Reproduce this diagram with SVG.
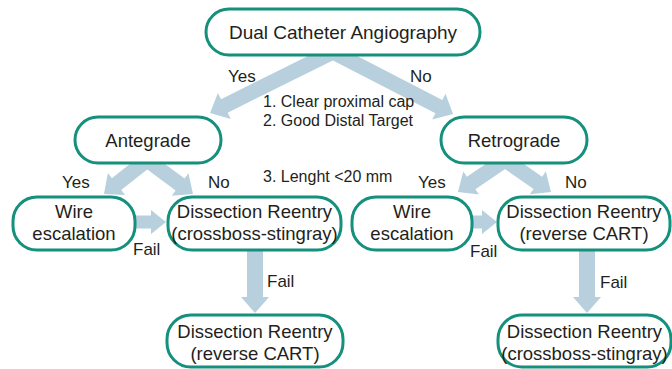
<svg xmlns="http://www.w3.org/2000/svg" width="672" height="369" viewBox="0 0 672 369">
<style>
.box{fill:#fff;stroke:#14907c;stroke-width:3}
.arr{fill:#b8d0dd}
text{font-family:"Liberation Sans",Arial,sans-serif;fill:#231f20}
.lb{font-size:18.5px;text-anchor:middle}
.top{font-size:19px;text-anchor:middle}
.yn{font-size:17px}
.note{font-size:16px}
</style>
<rect width="672" height="369" fill="#fff"/>
<g id="connectors">
<path class="arr" transform="translate(333,52) rotate(153.6)" d="M0,-7.5H121.3V-14.5L137.3,0L121.3,14.5V7.5H0Z"/>
<path class="arr" transform="translate(333,52) rotate(27.3)" d="M0,-7.5H119.1V-14.5L135.1,0L119.1,14.5V7.5H0Z"/>
<path class="arr" transform="translate(147,160) rotate(141.7)" d="M0,-7.5H38.8V-14L54.8,0L38.8,14V7.5H0Z"/>
<path class="arr" transform="translate(147,160) rotate(36.5)" d="M0,-7.5H41.2V-14L57.2,0L41.2,14V7.5H0Z"/>
<path class="arr" transform="translate(505,160) rotate(145.8)" d="M0,-7.5H40.9V-14L56.9,0L40.9,14V7.5H0Z"/>
<path class="arr" transform="translate(505,160) rotate(34.8)" d="M0,-7.5H40V-14L56,0L40,14V7.5H0Z"/>
<path class="arr" transform="translate(130,222)" d="M0,-6.5H21V-12L36,0L21,12V6.5H0Z"/>
<path class="arr" transform="translate(468,222)" d="M0,-6.5H14V-12L29,0L14,12V6.5H0Z"/>
<path class="arr" transform="translate(255,248) rotate(90)" d="M0,-8H49V-14L65,0L49,14V8H0Z"/>
<path class="arr" transform="translate(587,248) rotate(90)" d="M0,-8H49V-14L65,0L49,14V8H0Z"/>
<text class="yn" x="228" y="82">Yes</text>
<text class="yn" x="410" y="82">No</text>
<text class="yn" x="62" y="188">Yes</text>
<text class="yn" x="208" y="188">No</text>
<text class="yn" x="418" y="188">Yes</text>
<text class="yn" x="565" y="188">No</text>
<text class="yn" x="133" y="255">Fail</text>
<text class="yn" x="470" y="257">Fail</text>
<text class="yn" x="267" y="287">Fail</text>
<text class="yn" x="600" y="288">Fail</text>
<text class="note" x="263" y="107">1. Clear proximal cap</text>
<text class="note" x="263" y="126">2. Good Distal Target</text>
<text class="note" x="263" y="182">3. Lenght &lt;20 mm</text>
</g>
<g id="n-dca"><rect class="box" x="206" y="9" width="274" height="46" rx="23"/><text class="top" x="343" y="39">Dual Catheter Angiography</text></g>
<g id="n-ante"><rect class="box" x="75" y="117" width="146" height="46" rx="23"/><text class="lb" x="148" y="147">Antegrade</text></g>
<g id="n-retro"><rect class="box" x="441" y="117" width="146" height="46" rx="23"/><text class="lb" x="514" y="147">Retrograde</text></g>
<g id="n-wire1"><rect class="box" x="13" y="197" width="122" height="53" rx="24"/><text class="lb" x="74" y="218">Wire</text><text class="lb" x="74" y="240">escalation</text></g>
<g id="n-dr1"><rect class="box" x="168" y="197" width="173" height="53" rx="24"/><text class="lb" x="254.5" y="218">Dissection Reentry</text><text class="lb" x="254.5" y="240">(crossboss-stingray)</text></g>
<g id="n-wire2"><rect class="box" x="352" y="197" width="120" height="53" rx="24"/><text class="lb" x="412" y="218">Wire</text><text class="lb" x="412" y="240">escalation</text></g>
<g id="n-dr2"><rect class="box" x="498" y="197" width="172" height="53" rx="24"/><text class="lb" x="584" y="218">Dissection Reentry</text><text class="lb" x="584" y="240">(reverse CART)</text></g>
<g id="n-dr3"><rect class="box" x="167" y="315" width="176" height="52" rx="24"/><text class="lb" x="255" y="338">Dissection Reentry</text><text class="lb" x="255" y="360">(reverse CART)</text></g>
<g id="n-dr4"><rect class="box" x="498" y="315" width="173" height="52" rx="24"/><text class="lb" x="584.5" y="338">Dissection Reentry</text><text class="lb" x="584.5" y="360">(crossboss-stingray)</text></g>
</svg>
